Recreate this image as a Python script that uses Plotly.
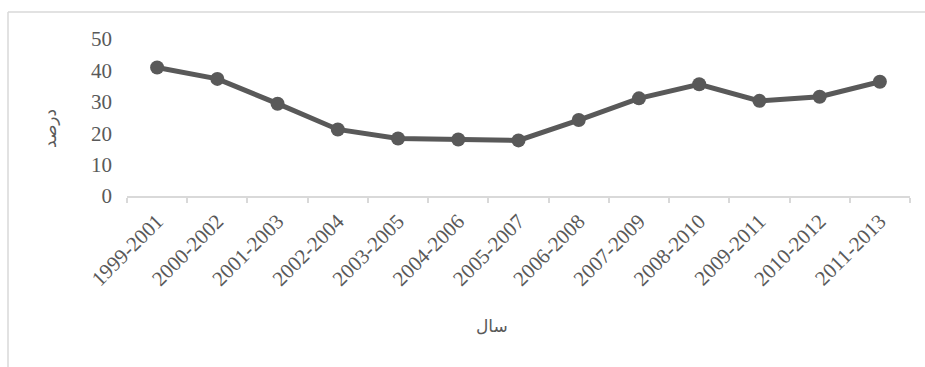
import plotly.graph_objects as go

categories = ["1999-2001", "2000-2002", "2001-2003", "2002-2004", "2003-2005",
              "2004-2006", "2005-2007", "2006-2008", "2007-2009", "2008-2010",
              "2009-2011", "2010-2012", "2011-2013"]
values = [40.9, 37.3, 29.4, 21.2, 18.3, 18.0, 17.7, 24.2, 31.1, 35.6, 30.3, 31.6, 36.4]
y_ticks = [0, 10, 20, 30, 40, 50]

W, H = 925, 367
L, R, T, B = 127, 15, 39, 171
pw, ph = W - L - R, H - T - B

def px(x):
    return (x - L) / pw

def py(y):
    return (H - B - y) / ph

fig = go.Figure()
fig.add_trace(go.Scatter(
    x=categories, y=values, mode="lines+markers",
    line=dict(color="#595959", width=5),
    marker=dict(color="#595959", size=14),
    cliponaxis=False, showlegend=False,
))

font_serif = "Liberation Serif"
fig.update_layout(
    width=W, height=H,
    margin=dict(l=L, r=R, t=T, b=B),
    paper_bgcolor="white", plot_bgcolor="white",
    font=dict(family=font_serif, color="#595959", size=21),
    xaxis=dict(
        type="category", range=[-0.5, len(categories) - 0.5], autorange=False,
        tickangle=-45, showline=True, linecolor="#d9d9d9", linewidth=1.5,
        ticks="outside", tickson="boundaries", tickcolor="#d9d9d9", ticklen=5, tickwidth=1.5,
        showgrid=False, zeroline=False, ticklabelstandoff=3,
        tickfont=dict(family=font_serif, size=21, color="#595959"),
    ),
    yaxis=dict(
        range=[0, 50], autorange=False, tickvals=y_ticks, showgrid=False, zeroline=False, showline=False,
        ticklabelstandoff=14,
        tickfont=dict(family=font_serif, size=21, color="#595959"),
    ),
    shapes=[
        dict(type="line", xref="paper", yref="paper", x0=px(8), x1=px(8), y0=py(12), y1=py(367),
             line=dict(color="#d9d9d9", width=1.5)),
        dict(type="line", xref="paper", yref="paper", x0=px(8), x1=px(925), y0=py(12), y1=py(12),
             line=dict(color="#d9d9d9", width=1.5)),
    ],
    annotations=[
        dict(text="درصد", xref="paper", yref="paper", x=px(50), y=py(129), showarrow=False,
             textangle=-90, font=dict(family="DejaVu Sans", size=17, color="#595959"),
             xanchor="center", yanchor="middle"),
        dict(text="سال", xref="paper", yref="paper", x=px(492), y=py(326), showarrow=False,
             font=dict(family="DejaVu Sans", size=17, color="#595959"),
             xanchor="center", yanchor="middle"),
    ],
)

fig.write_html("out.html")
